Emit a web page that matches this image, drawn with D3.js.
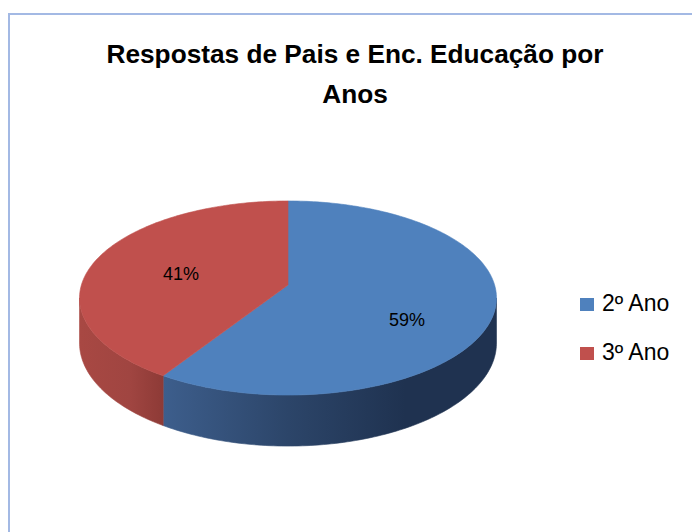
<!DOCTYPE html>
<html>
<head>
<meta charset="utf-8">
<script src="https://cdnjs.cloudflare.com/ajax/libs/d3/7.8.5/d3.min.js"></script>
<style>
  html, body { margin: 0; padding: 0; background: #fff; }
  svg { display: block; }
</style>
</head>
<body>
<div id="chart"></div>
<script>
var w = 692,
  h = 532;

// chart data
var titleLines = ["Respostas de Pais e Enc. Educação por", "Anos"];
var categories = ["2º Ano", "3º Ano"];
var values = [59, 41];
var colors = ["#4f81bd", "#c0504d"];

var font = "'Liberation Sans', Arial, sans-serif";

var svg = d3.select("#chart").append("svg").attr("width", w).attr("height", h);

// frame of the chart area
svg.append("rect")
  .attr("x", 9).attr("y", 14)
  .attr("width", w + 20).attr("height", h + 20)
  .attr("fill", "none")
  .attr("stroke", "#a3b9e4")
  .attr("stroke-width", 2);

// title, squeezed to the width of the original narrow font
var t1 = svg.append("text")
  .attr("x", 355).attr("y", 63)
  .attr("text-anchor", "middle")
  .style("font-family", font).style("font-weight", "bold").style("font-size", "26px")
  .text(titleLines[0]);
var nat = t1.node().getComputedTextLength();
var squeeze = 497 / nat;
t1.attr("textLength", 497).attr("lengthAdjust", "spacingAndGlyphs");
var t2 = svg.append("text")
  .attr("x", 355).attr("y", 103)
  .attr("text-anchor", "middle")
  .style("font-family", font).style("font-weight", "bold").style("font-size", "26px")
  .text(titleLines[1]);
t2.attr("textLength", t2.node().getComputedTextLength() * squeeze).attr("lengthAdjust", "spacingAndGlyphs");

// 3d pie geometry (simple perspective)
var cx = 288, cy = 285, R = 206.6, A = 95.3, b = 0.134, D = 44.2;

function proj(theta, f, z) {
  var u = f * Math.sin(theta),
    v = -f * Math.cos(theta);
  var k = 1 / (1 - b * v);
  return [cx + R * u * k, cy + (A * v + D * z) * k];
}

var pie = d3.pie().sort(null).value(function(d) { return d; });
var arcs = pie(values);
var total = d3.sum(values);
var pct = d3.format(".0%");

function arcPoints(a1, a2, z) {
  var n = Math.max(2, Math.ceil(Math.abs(a2 - a1) / (Math.PI / 180)));
  var pts = [];
  for (var i = 0; i <= n; i++) {
    pts.push(proj(a1 + (a2 - a1) * i / n, 1, z));
  }
  return pts;
}

var defs = svg.append("defs");
var sideStops = [
  [[0, "#3f6190"], [0.2, "#3d5e8c"], [0.5, "#2c4569"], [0.78, "#1f3250"], [1, "#1f3250"]],
  [[0, "#a84843"], [0.12, "#a04541"], [0.21, "#8b3935"], [1, "#8b3935"]]
];
sideStops.forEach(function(stops, i) {
  var g = defs.append("linearGradient")
    .attr("id", "side" + i)
    .attr("gradientUnits", "userSpaceOnUse")
    .attr("x1", 80).attr("x2", 497).attr("y1", 0).attr("y2", 0);
  stops.forEach(function(s) {
    g.append("stop").attr("offset", s[0]).attr("stop-color", s[1]);
  });
});

// visible part of the outer wall
var visLo = Math.PI / 2 + Math.asin(b),
  visHi = 3 * Math.PI / 2 - Math.asin(b);

var line = d3.line();

arcs.forEach(function(d, i) {
  var a1 = Math.max(d.startAngle, visLo),
    a2 = Math.min(d.endAngle, visHi);
  if (a2 <= a1) return;
  var top = arcPoints(a1, a2, 0),
    bottom = arcPoints(a1, a2, 1).reverse();
  svg.append("path")
    .attr("d", line(top.concat(bottom)) + "Z")
    .attr("fill", "url(#side" + i + ")")
    .attr("stroke", "url(#side" + i + ")")
    .attr("stroke-width", 0.6);
});

// top faces
arcs.forEach(function(d, i) {
  var pts = [proj(0, 0, 0)].concat(arcPoints(d.startAngle, d.endAngle, 0));
  svg.append("path")
    .attr("d", line(pts) + "Z")
    .attr("fill", colors[i])
    .attr("stroke", colors[i])
    .attr("stroke-width", 0.6);
});

// data labels (placed like excel does on the flattened pie)
arcs.forEach(function(d) {
  var mid = (d.startAngle + d.endAngle) / 2;
  var x = cx + 6 + 0.57 * R * Math.sin(mid),
    y = cy + 12 - 0.87 * A * Math.cos(mid);
  svg.append("text")
    .attr("x", x).attr("y", y)
    .attr("dy", "0.35em")
    .attr("text-anchor", "middle")
    .style("font-family", font).style("font-size", "18px")
    .attr("fill", "#000")
    .text(pct(d.data / total));
});

// legend
var legend = svg.append("g");
categories.forEach(function(c, i) {
  var y = 311 + i * 49;
  legend.append("rect")
    .attr("x", 580).attr("y", y - 13)
    .attr("width", 14).attr("height", 13)
    .attr("fill", colors[i]);
  legend.append("text")
    .attr("x", 602).attr("y", y)
    .style("font-family", font).style("font-size", "23px")
    .attr("fill", "#000")
    .text(c);
});
</script>
</body>
</html>
